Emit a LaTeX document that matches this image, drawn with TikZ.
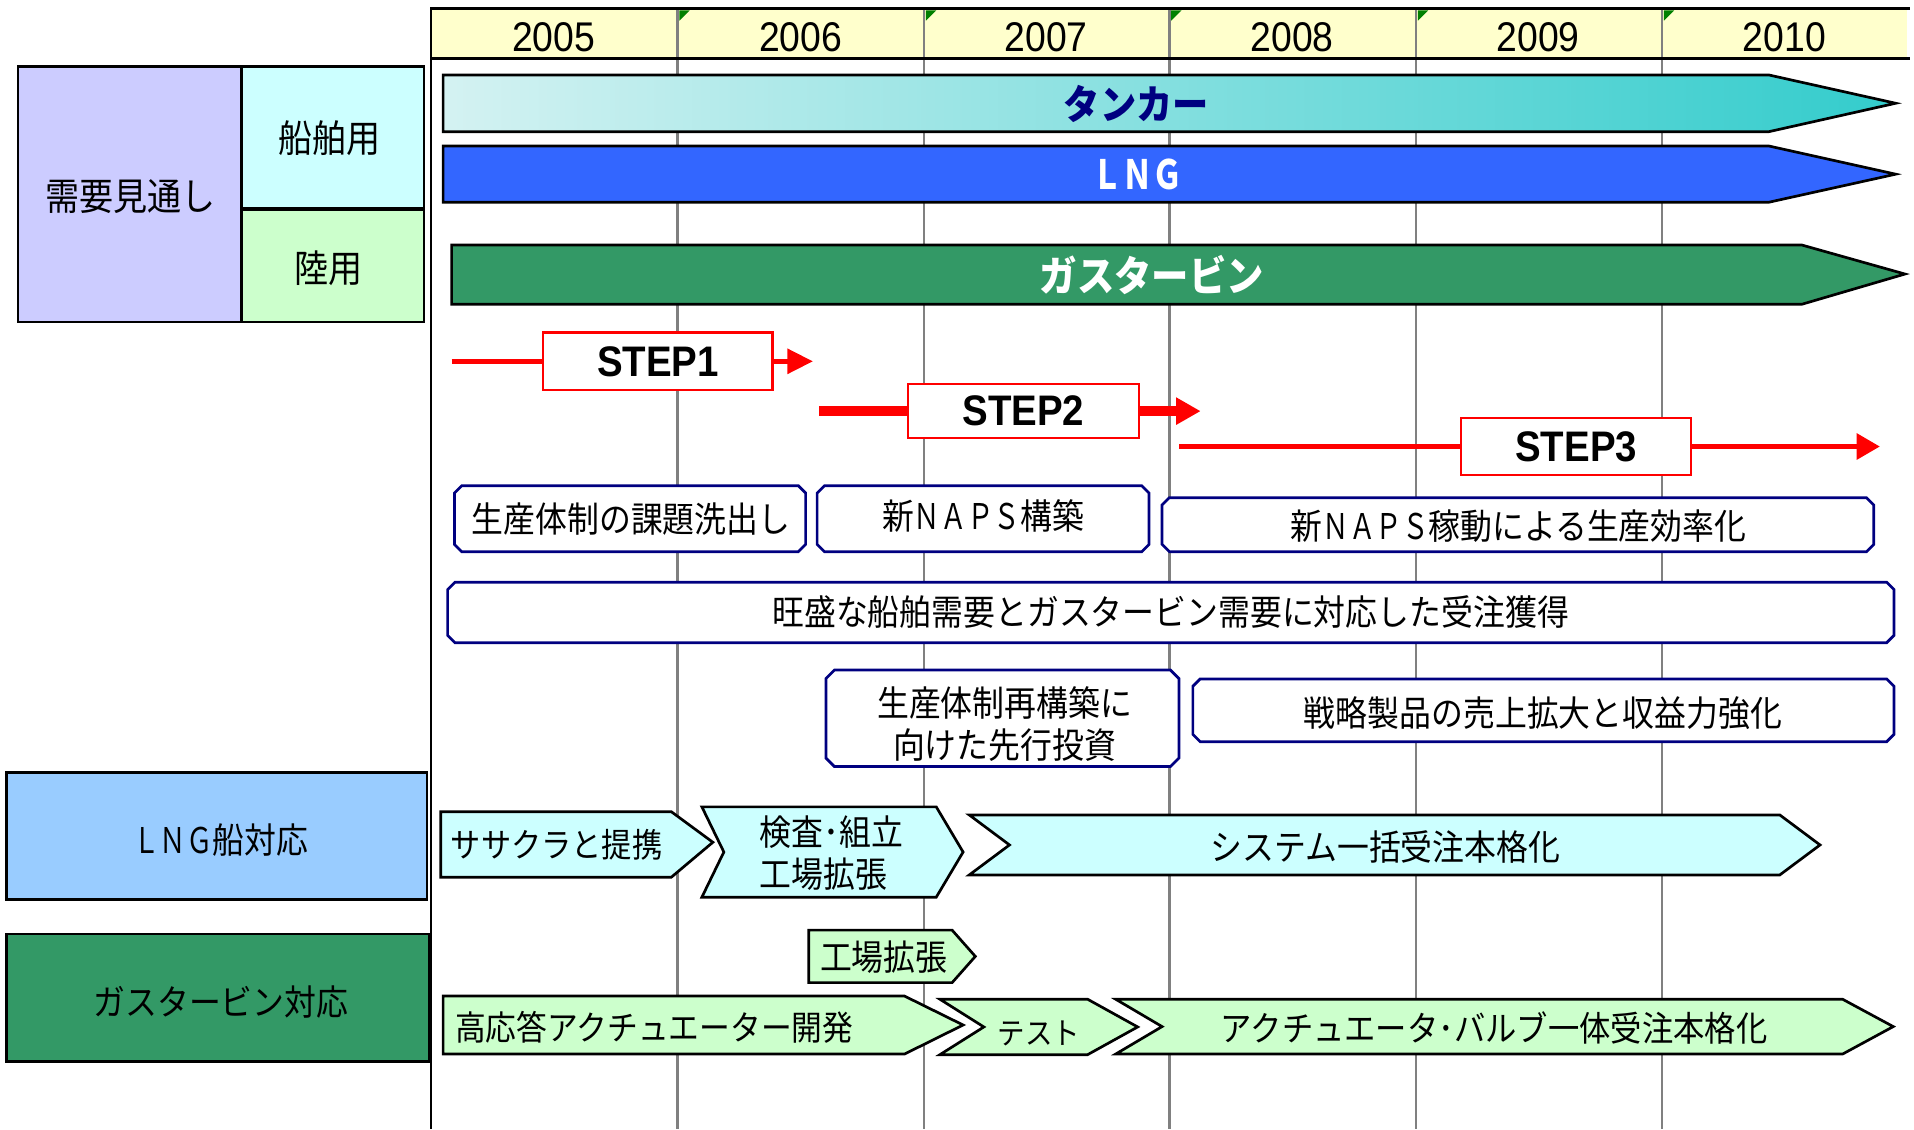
\documentclass[tikz,border=0pt]{standalone}
\usepackage{fontspec}
\setmainfont{Liberation Sans}
\newfontfamily\jp[FakeStretch=0.9]{Noto Sans CJK JP}
\newfontfamily\jpn[FakeStretch=0.75]{Noto Sans CJK JP}
\newfontfamily\narrowsans[FakeStretch=0.9]{Liberation Sans}
\usetikzlibrary{arrows.meta}
\definecolor{hdr}{HTML}{FFFFCC}
\definecolor{lav}{HTML}{CCCCFF}
\definecolor{ltcyan}{HTML}{CCFFFF}
\definecolor{ltgreen}{HTML}{CCFFCC}
\definecolor{skyb}{HTML}{99CCFF}
\definecolor{seag}{HTML}{339966}
\definecolor{lngblue}{HTML}{3366FF}
\definecolor{tankL}{HTML}{D4F2F2}
\definecolor{tankR}{HTML}{33CCCC}
\definecolor{navyc}{HTML}{000080}
\definecolor{gridg}{HTML}{808080}
\definecolor{mkgreen}{HTML}{008000}
\newcommand{\nw}[1]{{\jpn #1}}
\newcommand{\chbox}[5]{%
  \draw[navybox] ({#1+#5},#2) -- ({#3-#5},#2) -- (#3,{#2+#5}) -- (#3,{#4-#5}) -- ({#3-#5},#4) -- ({#1+#5},#4) -- (#1,{#4-#5}) -- (#1,{#2+#5}) -- cycle;}
\newcommand{\gmark}[1]{\fill[mkgreen] ({#1+1.5},8.5) -- ({#1+10},8.5) -- ({#1+1.5},17) -- cycle;}
\begin{document}
\begin{tikzpicture}[x=1pt,y=-1pt,
  jtxt/.style={font=\jp\fontsize{29pt}{36pt}\selectfont, inner sep=0pt},
  jbig/.style={font=\jp\fontsize{31pt}{36pt}\selectfont, inner sep=0pt},
  yr/.style={font=\narrowsans\fontsize{34pt}{38pt}\selectfont, inner sep=0pt},
  stepbox/.style={draw=red, line width=2pt, fill=white, inner sep=0pt,
     font=\narrowsans\bfseries\fontsize{35pt}{38pt}\selectfont},
  navybox/.style={draw=navyc, line width=2.2pt, fill=white},
  tbl/.style={draw=black, line width=2pt},
  bigarrow/.style={draw=black, line width=2.2pt, line join=miter},
  chev/.style={draw=black, line width=2.2pt, line join=miter},
  gridline/.style={draw=gridg, line width=2pt},
  redline/.style={draw=red, line cap=butt}
]
\useasboundingbox (0,0) rectangle (1568,925);
% header
\fill[hdr] (353,7) rectangle (1562,47);
\foreach \gx in {555,757,958,1160,1361.5} {\draw[gridline] (\gx,7) -- (\gx,925);}
\foreach \gx in {555,757,958,1160,1361.5} {\gmark{\gx}}
\draw[black, line width=2pt] (353,7) -- (1565,7);
\draw[black, line width=2.5pt] (353,48) -- (1565,48);
\draw[black, line width=2.2pt] (353,6) -- (353,925);
\node[yr] (y2005) at (453.5,30.5) {2005};
\node[yr] (y2006) at (656,30.5) {2006};
\node[yr] (y2007) at (857,30.5) {2007};
\node[yr] (y2008) at (1058.5,30.5) {2008};
\node[yr] (y2009) at (1260,30.5) {2009};
\node[yr] (y2010) at (1461.7,30.5) {2010};
% left table
\draw[tbl, fill=lav] (14.6,54.6) rectangle (198,263.8);
\draw[tbl, fill=ltcyan] (198,54.6) rectangle (347.5,171.5);
\draw[tbl, fill=ltgreen] (198,171.5) rectangle (347.5,263.8);
\draw[black, line width=3.5pt] (198,171.5) -- (347.5,171.5);
\node[jbig] (juyo) at (107,161) {需要見通し};
\node[jbig] (senpaku) at (270,113) {船舶用};
\node[jbig] (rikuyo) at (269,220) {陸用};
\draw[tbl, fill=skyb] (5.2,633) rectangle (350,737);
\draw[tbl, fill=seag] (5.2,765) rectangle (351.7,869.7);
\node[jtxt] (lngtai) at (181,688) {\nw{ＬＮＧ}船対応};
\node[jtxt] (gastai) at (181,820.6) {ガスタービン対応};
% big arrows
\draw[bigarrow, left color=tankL, right color=tankR] (363,61.4) -- (1449,61.4) -- (1553,84.6) -- (1449,107.9) -- (363,107.9) -- cycle;
\node[font=\jp\bfseries\fontsize{33pt}{36pt}\selectfont, text=navyc, inner sep=0pt] (tanker) at (931,85) {タンカー};
\draw[bigarrow, fill=lngblue] (363,119.6) -- (1449,119.6) -- (1553,142.7) -- (1449,165.7) -- (363,165.7) -- cycle;
\node[font=\jpn\bfseries\fontsize{33pt}{36pt}\selectfont, text=white, inner sep=0pt] (lng) at (932,143) {ＬＮＧ};
\draw[bigarrow, fill=seag] (370,200.7) -- (1476,200.7) -- (1560.6,224.5) -- (1476,249.3) -- (370,249.3) -- cycle;
\node[font=\jp\bfseries\fontsize{34pt}{38pt}\selectfont, text=white, inner sep=0pt] (gt) at (943.5,225) {ガスタービン};
% steps
\node[stepbox, minimum width=188pt, minimum height=47pt] (s1) at (539,296) {STEP1};
\node[stepbox, minimum width=189pt, minimum height=44.4pt] (s2) at (838.4,336.8) {STEP2};
\node[stepbox, minimum width=188.4pt, minimum height=46.4pt] (s3) at (1291.2,365.8) {STEP3};
\coordinate (s1a) at (370,296);
\coordinate (s1b) at (666,296);
\coordinate (s2a) at (671,336.8);
\coordinate (s2b) at (983.6,336.8);
\coordinate (s3a) at (966,365.8);
\coordinate (s3b) at (1540,365.8);
\draw[redline, line width=4pt] (s1a) -- (s1.west);
\draw[redline, line width=4pt, -{Triangle[length=21pt,width=20pt]}] (s1.east) -- (s1b);
\draw[redline, line width=8pt] (s2a) -- (s2.west);
\draw[redline, line width=8pt, -{Triangle[length=20pt,width=21pt]}] (s2.east) -- (s2b);
\draw[redline, line width=3.5pt] (s3a) -- (s3.west);
\draw[redline, line width=3.5pt, -{Triangle[length=19pt,width=21pt]}] (s3.east) -- (s3b);
% navy boxes
\chbox{372.3}{397.9}{660}{452}{6}
\node[jtxt] (kadai) at (517,425) {生産体制の課題洗出し};
\chbox{669.4}{397.9}{941.3}{452}{6}
\node[jtxt] (naps1) at (805.3,423) {新\nw{ＮＡＰＳ}構築};
\chbox{952}{407.7}{1535}{452}{6}
\node[jtxt] (naps2) at (1244,431) {新\nw{ＮＡＰＳ}稼動による生産効率化};
\chbox{366.7}{477}{1551.6}{526.5}{6}
\node[jtxt] (juchu) at (959,501) {旺盛な船舶需要とガスタービン需要に対応した受注獲得};
\chbox{676.6}{548.9}{965.8}{628}{7}
\node[jtxt, align=center, font=\jp\fontsize{29pt}{34pt}\selectfont] (toshi) at (823,593) {生産体制再構築に\\向けた先行投資};
\chbox{977.2}{556.2}{1551.6}{607.6}{6}
\node[jtxt] (senryaku) at (1264,584) {戦略製品の売上拡大と収益力強化};
% LNG row chevrons
\draw[chev, fill=ltcyan] (361,665) -- (550,665) -- (584,690) -- (550,718.6) -- (361,718.6) -- cycle;
\node[jtxt, font=\jp\fontsize{27.5pt}{34pt}\selectfont] (sasakura) at (456,692) {ササクラと提携};
\draw[chev, fill=ltcyan] (575,661) -- (767,661) -- (789,698) -- (767,735) -- (575,735) -- (593,698) -- cycle;
\node[jtxt, align=left, anchor=west, font=\jp\fontsize{29pt}{34pt}\selectfont] (kensa) at (622,699) {検査･組立\\工場拡張};
\draw[chev, fill=ltcyan] (794,667.6) -- (1458,667.6) -- (1491,692.2) -- (1458,716.8) -- (794,716.8) -- (827,692.2) -- cycle;
\node[jtxt] (system) at (1135,694) {システム一括受注本格化};
% gas turbine row chevrons
\draw[chev, fill=ltgreen] (662.5,762) -- (780,762) -- (799,783.5) -- (780,805) -- (662.5,805) -- cycle;
\node[jtxt] (kojo) at (724,784) {工場拡張};
\draw[chev, fill=ltgreen] (363,816) -- (741,816) -- (789,839.7) -- (741,863.5) -- (363,863.5) -- cycle;
\node[jtxt, font=\jp\fontsize{28pt}{34pt}\selectfont] (koouto) at (536,842) {高応答アクチュエーター開発};
\draw[chev, fill=ltgreen] (770,818.6) -- (891,818.6) -- (932,841.3) -- (891,864) -- (770,864) -- (806,841.3) -- cycle;
\node[jtxt, font=\jp\fontsize{25pt}{30pt}\selectfont] (test) at (851,847) {テスト};
\draw[chev, fill=ltgreen] (914,818.6) -- (1509.5,818.6) -- (1551,841) -- (1509.5,863.5) -- (914,863.5) -- (952,841) -- cycle;
\node[jtxt, font=\jp\fontsize{28.5pt}{34pt}\selectfont] (actu) at (1224,842) {アクチュエータ･バルブ一体受注本格化};
\end{tikzpicture}
\end{document}
